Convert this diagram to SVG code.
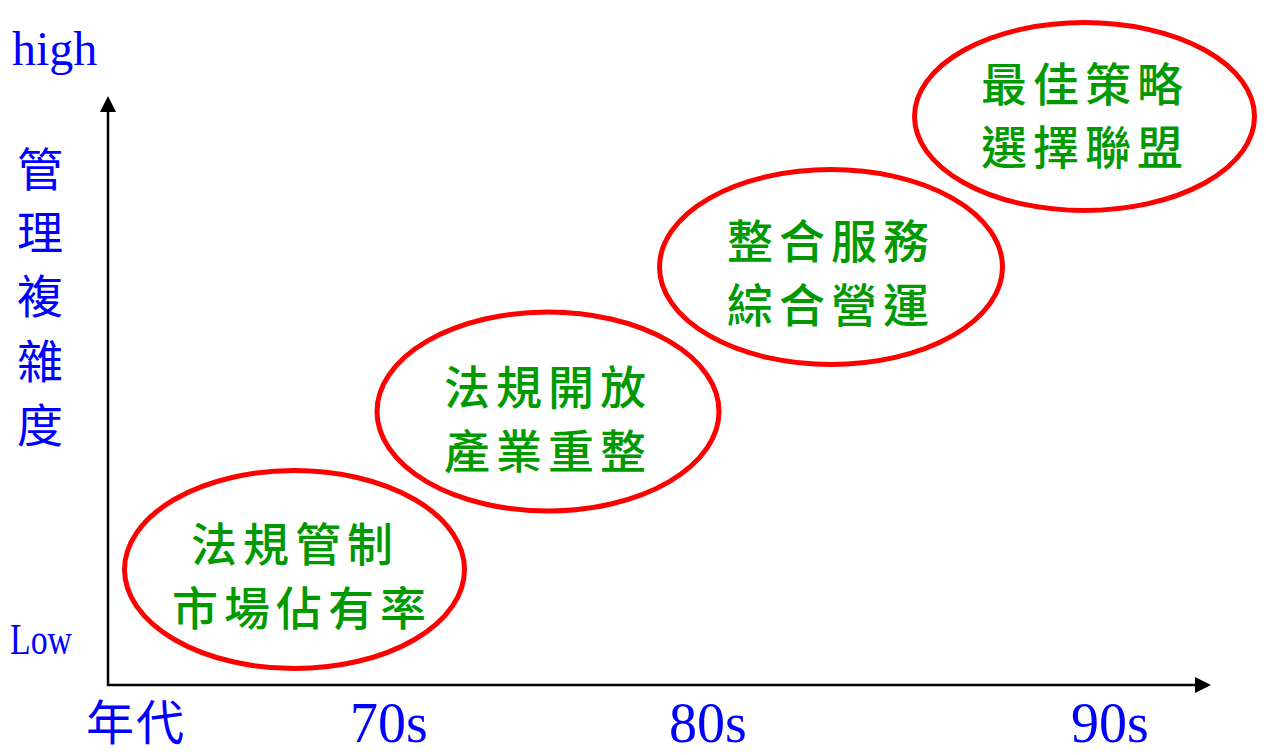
<svg xmlns="http://www.w3.org/2000/svg" width="1266" height="755" viewBox="0 0 1266 755">
<defs>
<marker id="arr" markerUnits="userSpaceOnUse" markerWidth="16" markerHeight="16" refX="0" refY="8" orient="auto"><path d="M0,0 L16,8 L0,16 Z" fill="#000"/></marker>
<style>
.ax{stroke:#000;stroke-width:2.5;fill:none}
.el{fill:none;stroke:#ff0000;stroke-width:5}
.g{font-family:"Noto Sans CJK TC","Noto Sans CJK SC",sans-serif;font-size:46px;font-weight:500;fill:#009900;letter-spacing:6px}
.bc{font-family:"Noto Sans CJK TC","Noto Sans CJK SC",sans-serif;fill:#0000ff}
.bl{font-family:"Liberation Serif","Times New Roman",serif;fill:#0000ff}
</style>
</defs>
<rect width="1266" height="755" fill="#fff"/>
<g id="connectors">
<line class="ax" x1="108" y1="686" x2="108" y2="112" marker-end="url(#arr)"/>
<line class="ax" x1="107" y1="685" x2="1195" y2="685" marker-end="url(#arr)"/>
</g>
<g id="axis-labels">
<text class="bl" x="12" y="65" font-size="48">high</text>
<text class="bl" x="10" y="654" font-size="44" textLength="62" lengthAdjust="spacingAndGlyphs">Low</text>
<g class="bc" font-size="46" text-anchor="middle">
<text x="40" y="185.5">管</text>
<text x="40" y="248.5">理</text>
<text x="40" y="312.5">複</text>
<text x="40" y="377.5">雜</text>
<text x="40" y="441.5">度</text>
</g>
<text class="bc" x="86" y="740" font-size="48" letter-spacing="2">年代</text>
<text class="bl" x="350" y="742" font-size="56">70s</text>
<text class="bl" x="669" y="742" font-size="56">80s</text>
<text class="bl" x="1071" y="742" font-size="56">90s</text>
</g>
<g id="node1">
<ellipse class="el" cx="294.5" cy="569.5" rx="170" ry="99"/>
<text class="g" x="191" y="560.5">法規管制</text>
<text class="g" x="172" y="625">市場佔有率</text>
</g>
<g id="node2">
<ellipse class="el" cx="548" cy="411.5" rx="171" ry="99.5"/>
<text class="g" x="444" y="403.5">法規開放</text>
<text class="g" x="444" y="467.5">產業重整</text>
</g>
<g id="node3">
<ellipse class="el" cx="831" cy="267" rx="171.5" ry="97.5"/>
<text class="g" x="727" y="257.5">整合服務</text>
<text class="g" x="727" y="322">綜合營運</text>
</g>
<g id="node4">
<ellipse class="el" cx="1084.5" cy="116.5" rx="170" ry="94"/>
<text class="g" x="981" y="100.5">最佳策略</text>
<text class="g" x="981" y="163.5">選擇聯盟</text>
</g>
</svg>
